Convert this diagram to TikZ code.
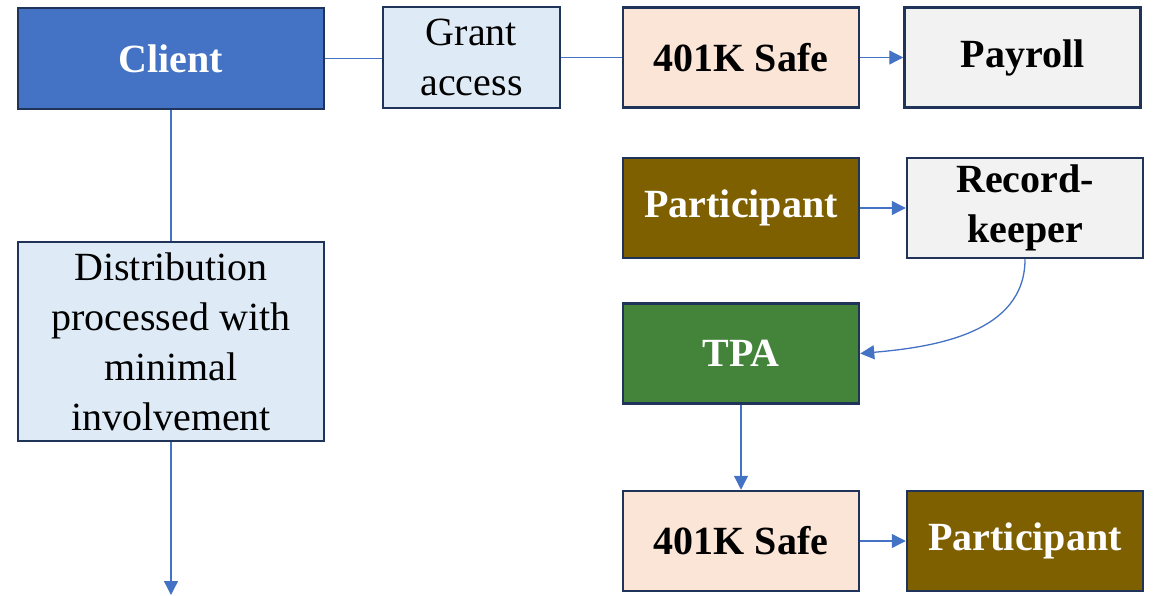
\documentclass[tikz,border=0pt]{standalone}
\usepackage{fontspec}
\setmainfont{Liberation Serif}
\usetikzlibrary{arrows.meta}
\definecolor{boxline}{HTML}{1F3458}
\definecolor{linkblue}{HTML}{4472C4}
\definecolor{clientblue}{HTML}{4472C4}
\definecolor{paleblue}{HTML}{DEEBF7}
\definecolor{peach}{HTML}{FBE5D6}
\definecolor{lightgray}{HTML}{F2F2F2}
\definecolor{olive}{HTML}{7F6000}
\definecolor{tpagreen}{HTML}{43843A}

\begin{document}
\begin{tikzpicture}[
    x=1pt, y=-1pt, % pixel-like units, (0,0) at top left
    box/.style={draw=boxline, line width=2.5pt, align=center, inner sep=2pt,
        font=\fontsize{40}{50}\selectfont},
    wide/.style={box, minimum width=306pt},
    small/.style={box, minimum width=236pt, minimum height=100pt, font=\fontsize{40}{50}\selectfont\bfseries},
    link/.style={linkblue, line width=1.3pt},
    arr/.style={link, -{Triangle[length=14pt, width=14pt]}}
]
\useasboundingbox (0,0) rectangle (1155,596);

% left column
\node[wide, fill=clientblue, text=white, minimum height=101pt,
      font=\fontsize{40}{50}\selectfont\bfseries] (client) at (171,58.5) {Client};
\node[box, fill=paleblue, minimum width=177pt, minimum height=101pt] (grant) at (471.5,57.5) {Grant\\access};
\node[wide, fill=paleblue, minimum height=199pt] (dist) at (171,341.5)
    {Distribution\\processed with\\minimal\\involvement};
\coordinate (down) at (171,595);

% right side
\node[small, fill=peach] (safeA) at (741,57.5) {401K Safe};
\node[small, fill=lightgray] (payroll) at (1022.5,57.5) {Payroll};
\node[small, fill=olive, text=white] (partA) at (741,208) {Participant};
\node[small, fill=lightgray] (keeper) at (1025,208) {Record-\\keeper};
\node[small, fill=tpagreen, text=white] (tpa) at (741,353.5) {TPA};
\node[small, fill=peach] (safeB) at (741,541) {401K Safe};
\node[small, fill=olive, text=white] (partB) at (1025,541) {Participant};

% connectors
\draw[link] (client.east) -- (client.east -| grant.west);
\draw[link] (grant.east) -- (grant.east -| safeA.west);
\draw[link] (client.south) -- (client.south |- dist.north);
\draw[arr] (dist.south -| down) -- (down);
\draw[arr] (safeA) -- (payroll);
\draw[arr] (partA) -- (keeper);
\draw[arr] (keeper.south) to[out=-90, in=5] (tpa.east);
\draw[arr] (tpa) -- (safeB);
\draw[arr] (safeB) -- (partB);
\end{tikzpicture}
\end{document}
